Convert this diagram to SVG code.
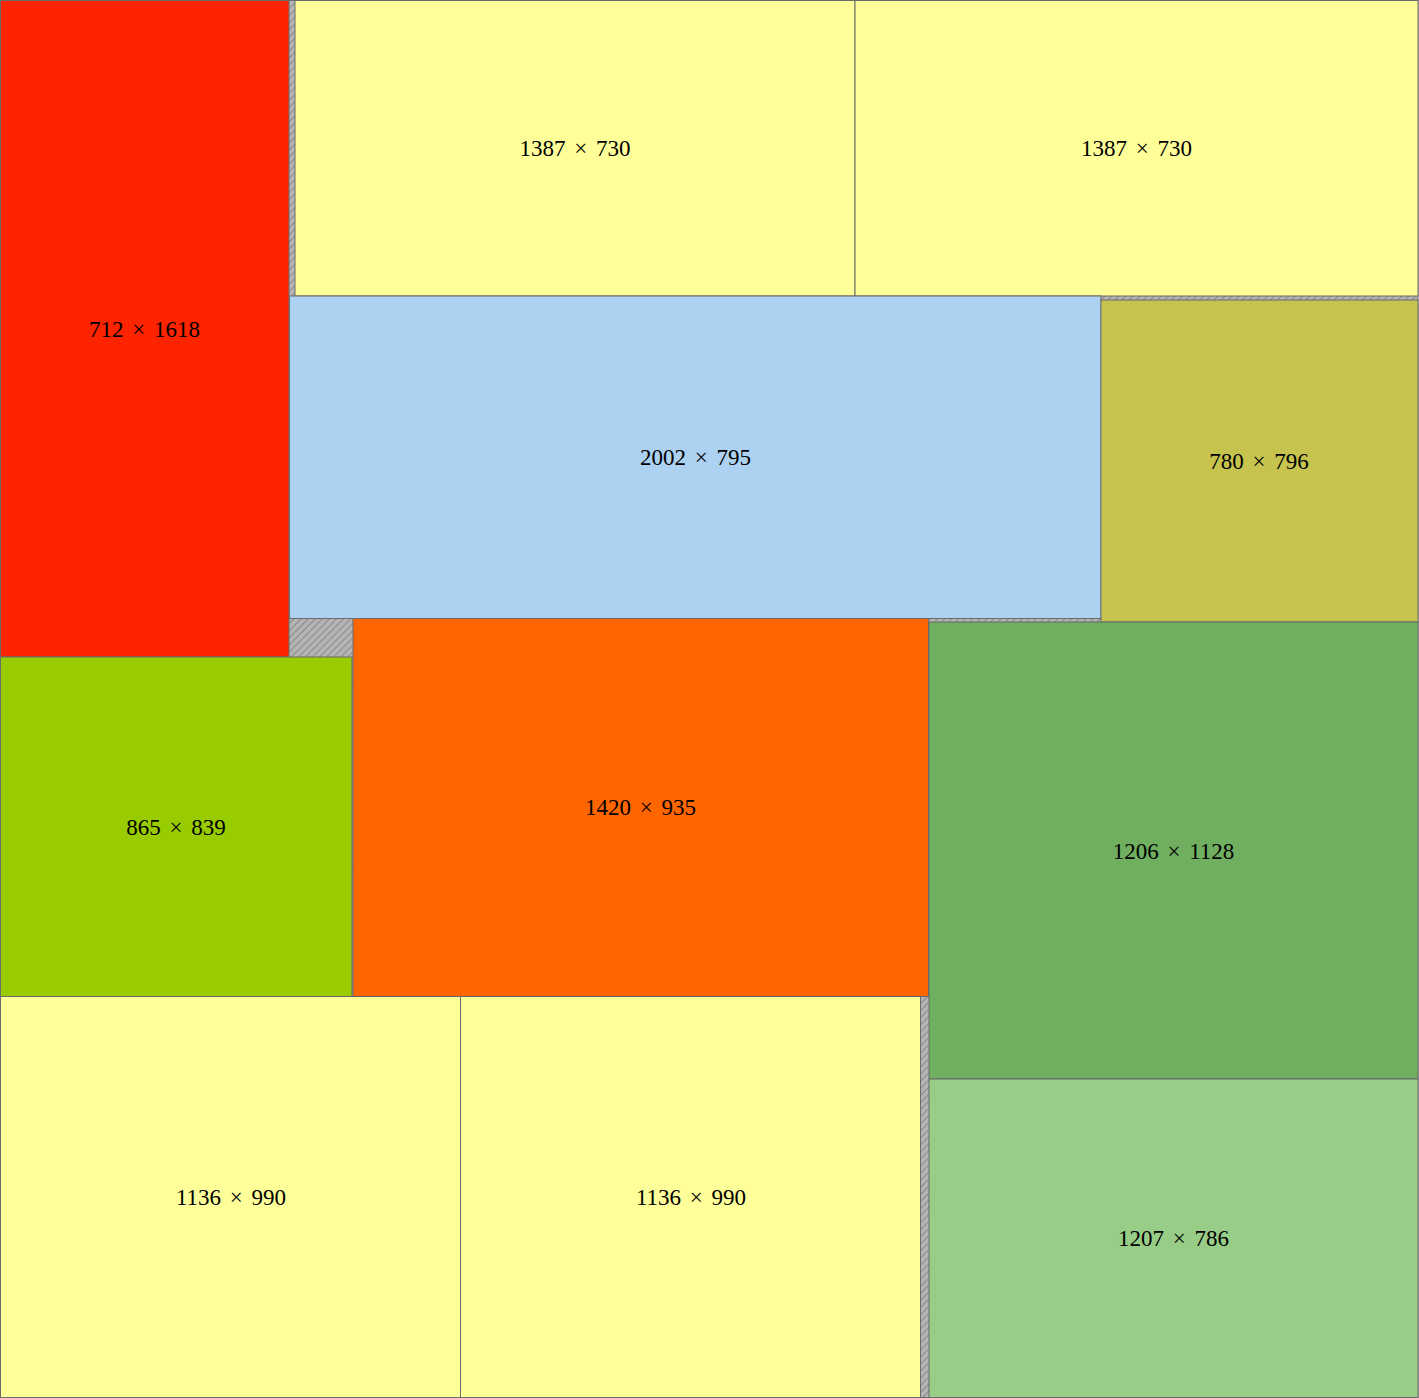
<svg xmlns="http://www.w3.org/2000/svg" width="1419" height="1398" viewBox="0 0 1419 1398">
<defs>
<pattern id="hatch" patternUnits="userSpaceOnUse" width="5" height="5" patternTransform="rotate(45)">
<rect width="5" height="5" fill="#b4b4b4"/>
<line x1="0" y1="0" x2="0" y2="5" stroke="#6e6e6e" stroke-width="1.2"/>
</pattern>
</defs>
<style>
.r{stroke:#6b6b6b;stroke-width:1}
.t{font-family:"Liberation Serif","DejaVu Serif",serif;font-size:23px;text-anchor:middle;fill:#000;word-spacing:3px}
</style>
<rect x="0.5" y="0.5" width="1417.5" height="1397" fill="url(#hatch)" stroke="#6b6b6b"/>
<g id="n1"><rect class="r" x="0.5" y="0.5" width="288.5" height="656.5" fill="#ff2400"/><text class="t" x="144.5" y="337">712 × 1618</text></g>
<g id="n2"><rect class="r" x="295" y="0.5" width="560" height="295.5" fill="#ffff99"/><text class="t" x="575" y="156">1387 × 730</text></g>
<g id="n3"><rect class="r" x="855" y="0.5" width="563" height="295.5" fill="#ffff99"/><text class="t" x="1136.5" y="156">1387 × 730</text></g>
<g id="n4"><rect class="r" x="289.5" y="296" width="811.5" height="322.5" fill="#acd1f1"/><text class="t" x="695.5" y="465">2002 × 795</text></g>
<g id="n5"><rect class="r" x="1101" y="300" width="317" height="322" fill="#c6c44f"/><text class="t" x="1259" y="469">780 × 796</text></g>
<g id="n6"><rect class="r" x="0.5" y="657" width="351.5" height="339.5" fill="#99cc00"/><text class="t" x="176" y="835">865 × 839</text></g>
<g id="n7"><rect class="r" x="353" y="618.5" width="575.5" height="378" fill="#ff6600"/><text class="t" x="640.5" y="815">1420 × 935</text></g>
<g id="n8"><rect class="r" x="929" y="622" width="489" height="457" fill="#6faf5f"/><text class="t" x="1173.5" y="859">1206 × 1128</text></g>
<g id="n9"><rect class="r" x="929" y="1079" width="489" height="318.5" fill="#98cd88"/><text class="t" x="1173.5" y="1246">1207 × 786</text></g>
<g id="n10"><rect class="r" x="0.5" y="996.5" width="460" height="401" fill="#ffff99"/><text class="t" x="231" y="1205">1136 × 990</text></g>
<g id="n11"><rect class="r" x="460.5" y="996.5" width="460" height="401" fill="#ffff99"/><text class="t" x="691" y="1205">1136 × 990</text></g>
<g id="connectors"></g>
</svg>
